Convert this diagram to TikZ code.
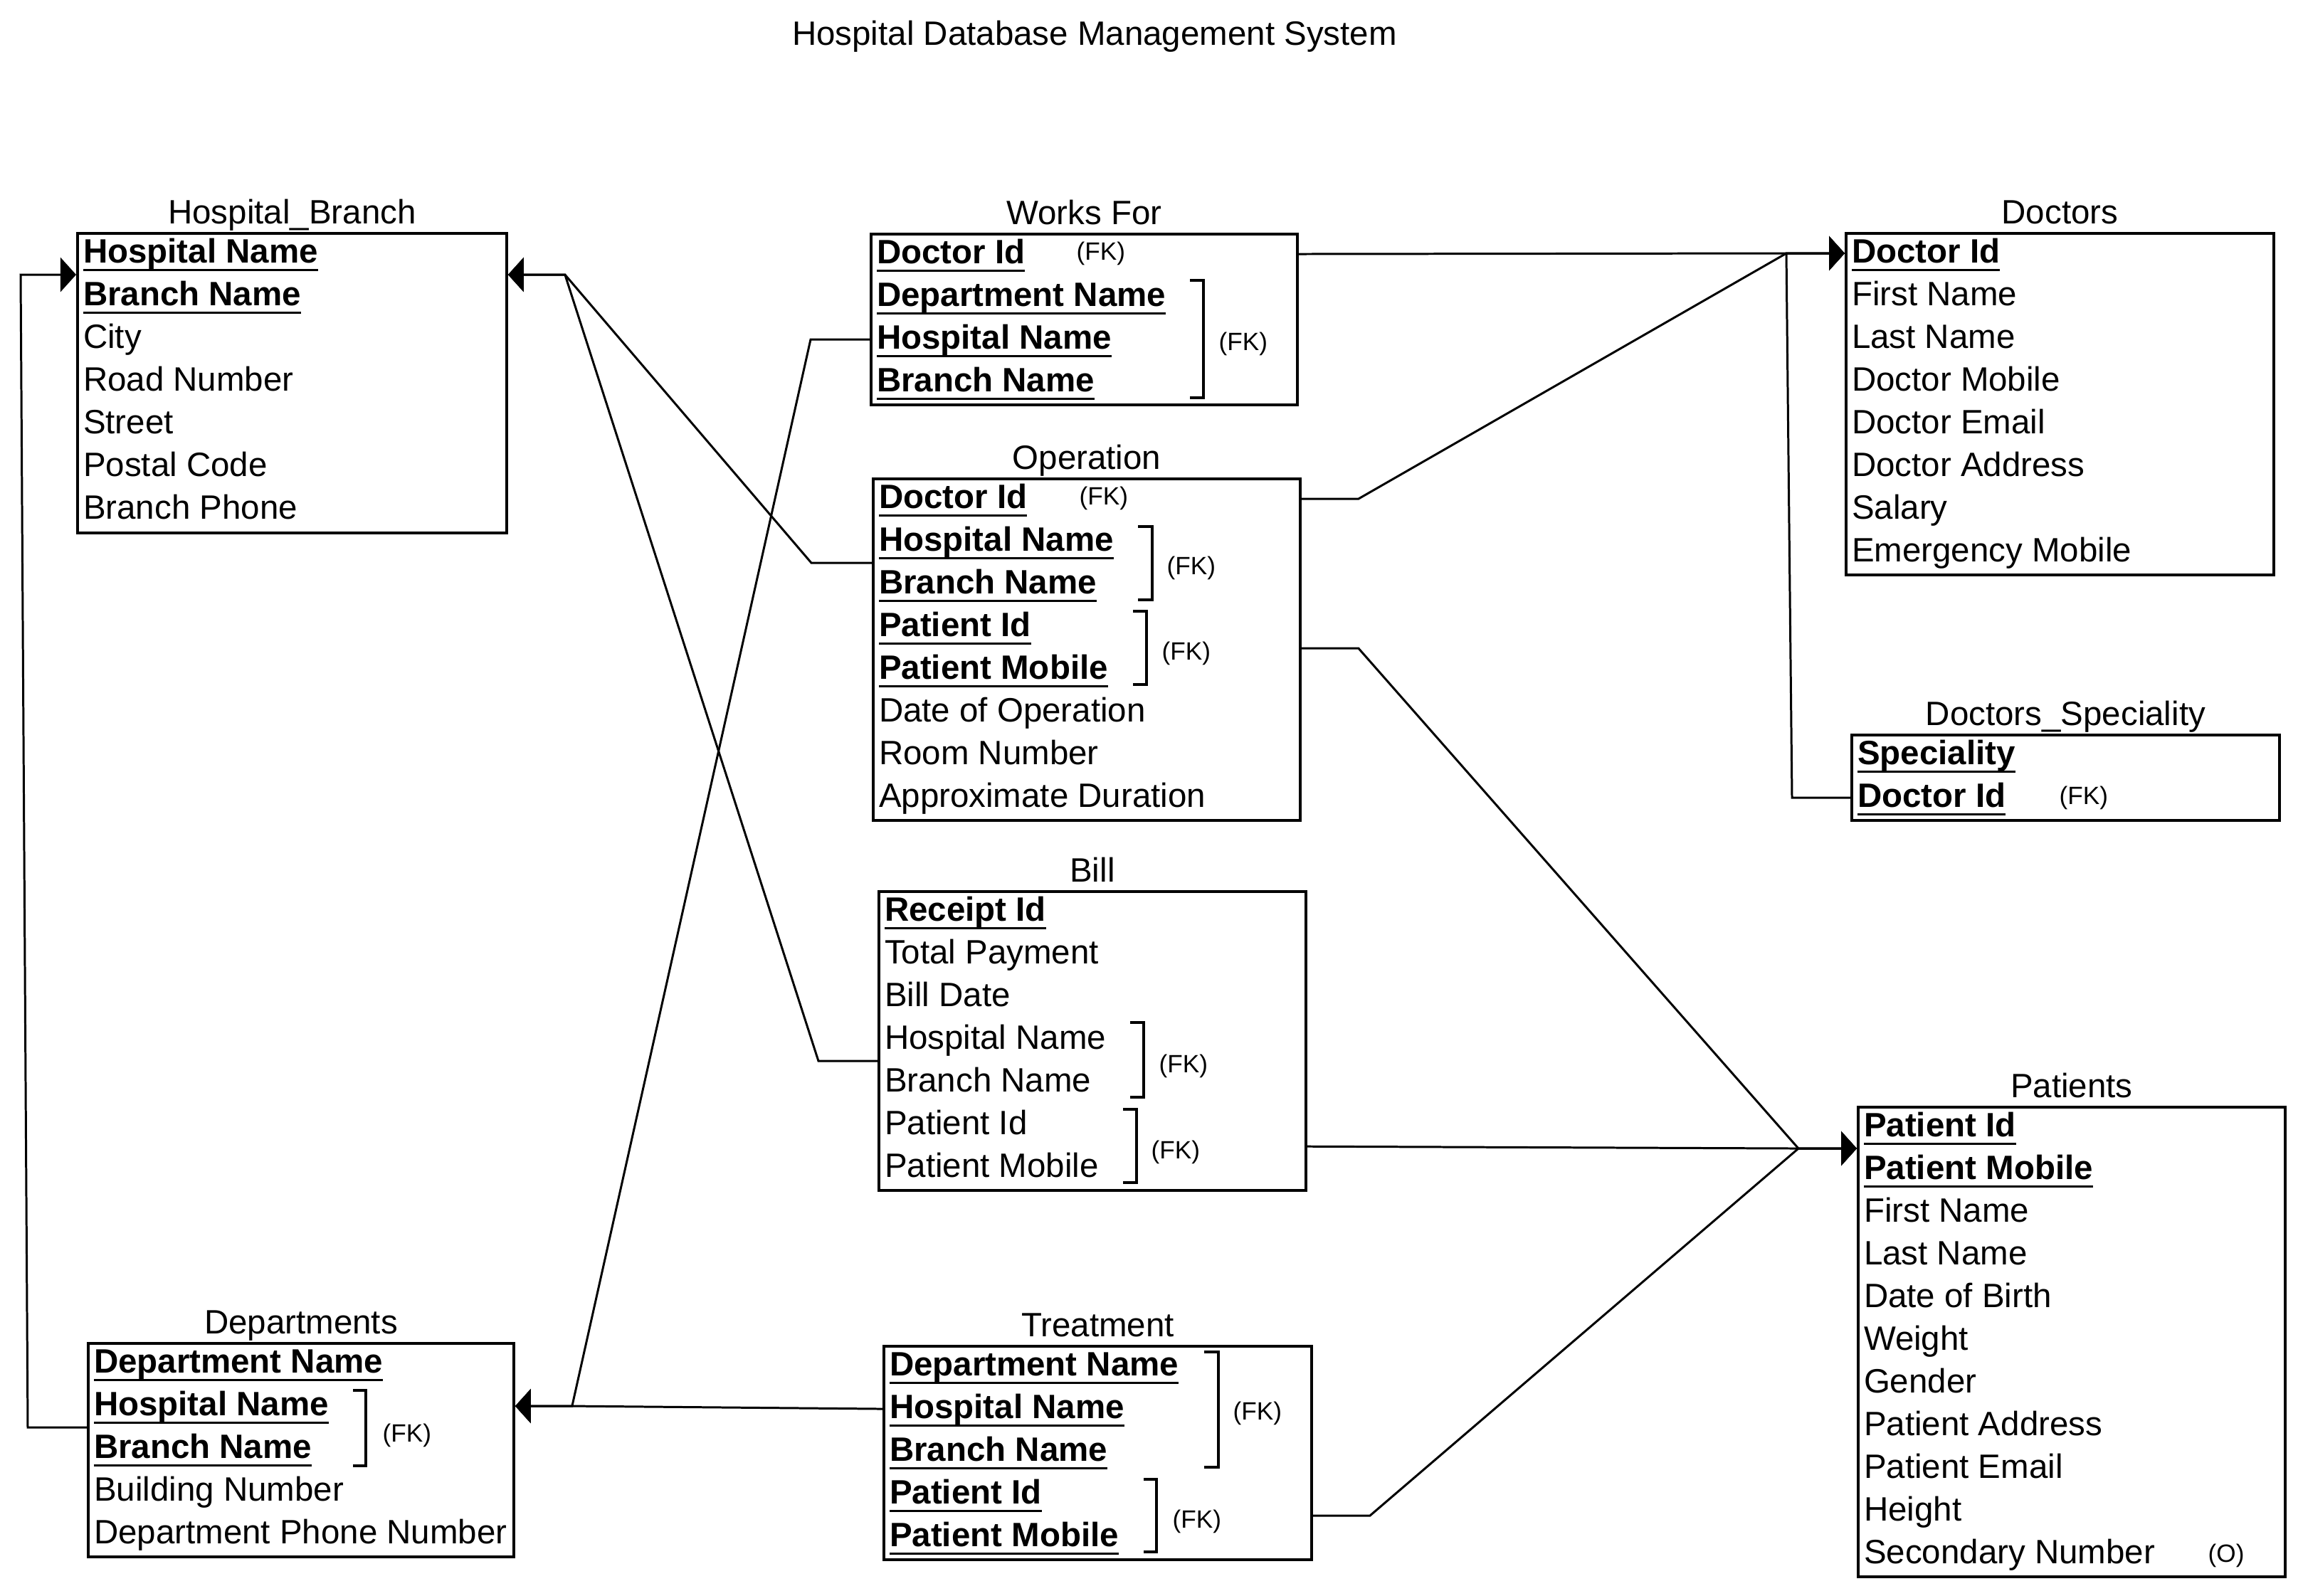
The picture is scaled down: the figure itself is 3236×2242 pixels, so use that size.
\documentclass[tikz,border=0pt]{standalone}
\usepackage{fontspec}
\setmainfont{Liberation Sans}
\usetikzlibrary{positioning}
\usetikzlibrary{arrows.meta}

\newsavebox{\pkbox}
\newcommand{\pk}[1]{\sbox\pkbox{\bfseries #1}\rlap{\rule[-3.47pt]{\wd\pkbox}{0.97pt}}\usebox\pkbox}

\begin{document}
\begin{tikzpicture}[x=0.01cm, y=-0.01cm,
entity/.style={draw, line width=1pt, anchor=north west, inner sep=0pt},
attr/.style={anchor=north west, inner sep=0pt, outer sep=0pt, text height=0.43cm, text depth=0.17cm, font=\fontsize{13.5}{16}\selectfont},
ename/.style={anchor=base, inner sep=0pt, font=\fontsize{13.5}{16}\selectfont},
fk/.style={anchor=west, inner sep=0pt, font=\fontsize{10}{12}\selectfont},
brk/.style={line width=1pt},
rel/.style={line width=0.85pt, -{Triangle[length=0.22cm,width=0.48cm]}}
]
\useasboundingbox (0,0) rectangle (3236,2242);

%title
\node[ename] (ttl) at (1538,64) {Hospital Database Management System};

%create boxes
\node[entity, minimum width=6.03cm, minimum height=4.21cm] (hb) at (107,326) {};
\node[entity, minimum width=5.99cm, minimum height=2.4cm] (wf) at (1222,327) {};
\node[entity, minimum width=6cm, minimum height=4.8cm] (op) at (1225,671) {};
\node[entity, minimum width=6cm, minimum height=4.2cm] (bill) at (1233,1251) {};
\node[entity, minimum width=6.01cm, minimum height=3cm] (trt) at (1240,1890) {};
\node[entity, minimum width=5.98cm, minimum height=3cm] (dep) at (122,1886) {};
\node[entity, minimum width=6.01cm, minimum height=4.8cm] (doc) at (2592,326) {};
\node[entity, minimum width=6.01cm, minimum height=1.2cm] (spec) at (2600,1031) {};
\node[entity, minimum width=6cm, minimum height=6.6cm] (pat) at (2609,1554) {};

%box names
\node[ename] (hbn) at ([yshift=0.115cm]hb.north) {Hospital\_Branch};
\node[ename] (wfn) at ([yshift=0.115cm]wf.north) {Works For};
\node[ename] (opn) at ([yshift=0.115cm]op.north) {Operation};
\node[ename] (billn) at ([yshift=0.115cm]bill.north) {Bill};
\node[ename] (trtn) at ([yshift=0.115cm]trt.north) {Treatment};
\node[ename] (depn) at ([yshift=0.115cm]dep.north) {Departments};
\node[ename] (docn) at ([yshift=0.115cm]doc.north) {Doctors};
\node[ename] (specn) at ([yshift=0.115cm]spec.north) {Doctors\_Speciality};
\node[ename] (patn) at ([yshift=0.115cm]pat.north) {Patients};

%Hospital_Branch rows
\node[attr] (hb0) at ([xshift=0.1cm]hb.north west) {\pk{Hospital Name}};
\node[below=0pt of hb0.south west, attr] (hb1) {\pk{Branch Name}};
\node[below=0pt of hb1.south west, attr] (hb2) {City};
\node[below=0pt of hb2.south west, attr] (hb3) {Road Number};
\node[below=0pt of hb3.south west, attr] (hb4) {Street};
\node[below=0pt of hb4.south west, attr] (hb5) {Postal Code};
\node[below=0pt of hb5.south west, attr] (hb6) {Branch Phone};

%Works For rows
\node[attr] (wf0) at ([xshift=0.1cm]wf.north west) {\pk{Doctor Id}};
\node[below=0pt of wf0.south west, attr] (wf1) {\pk{Department Name}};
\node[below=0pt of wf1.south west, attr] (wf2) {\pk{Hospital Name}};
\node[below=0pt of wf2.south west, attr] (wf3) {\pk{Branch Name}};

%Operation rows
\node[attr] (op0) at ([xshift=0.1cm]op.north west) {\pk{Doctor Id}};
\node[below=0pt of op0.south west, attr] (op1) {\pk{Hospital Name}};
\node[below=0pt of op1.south west, attr] (op2) {\pk{Branch Name}};
\node[below=0pt of op2.south west, attr] (op3) {\pk{Patient Id}};
\node[below=0pt of op3.south west, attr] (op4) {\pk{Patient Mobile}};
\node[below=0pt of op4.south west, attr] (op5) {Date of Operation};
\node[below=0pt of op5.south west, attr] (op6) {Room Number};
\node[below=0pt of op6.south west, attr] (op7) {Approximate Duration};

%Bill rows
\node[attr] (bill0) at ([xshift=0.1cm]bill.north west) {\pk{Receipt Id}};
\node[below=0pt of bill0.south west, attr] (bill1) {Total Payment};
\node[below=0pt of bill1.south west, attr] (bill2) {Bill Date};
\node[below=0pt of bill2.south west, attr] (bill3) {Hospital Name};
\node[below=0pt of bill3.south west, attr] (bill4) {Branch Name};
\node[below=0pt of bill4.south west, attr] (bill5) {Patient Id};
\node[below=0pt of bill5.south west, attr] (bill6) {Patient Mobile};

%Treatment rows
\node[attr] (trt0) at ([xshift=0.1cm]trt.north west) {\pk{Department Name}};
\node[below=0pt of trt0.south west, attr] (trt1) {\pk{Hospital Name}};
\node[below=0pt of trt1.south west, attr] (trt2) {\pk{Branch Name}};
\node[below=0pt of trt2.south west, attr] (trt3) {\pk{Patient Id}};
\node[below=0pt of trt3.south west, attr] (trt4) {\pk{Patient Mobile}};

%Departments rows
\node[attr] (dep0) at ([xshift=0.1cm]dep.north west) {\pk{Department Name}};
\node[below=0pt of dep0.south west, attr] (dep1) {\pk{Hospital Name}};
\node[below=0pt of dep1.south west, attr] (dep2) {\pk{Branch Name}};
\node[below=0pt of dep2.south west, attr] (dep3) {Building Number};
\node[below=0pt of dep3.south west, attr] (dep4) {Department Phone Number};

%Doctors rows
\node[attr] (doc0) at ([xshift=0.1cm]doc.north west) {\pk{Doctor Id}};
\node[below=0pt of doc0.south west, attr] (doc1) {First Name};
\node[below=0pt of doc1.south west, attr] (doc2) {Last Name};
\node[below=0pt of doc2.south west, attr] (doc3) {Doctor Mobile};
\node[below=0pt of doc3.south west, attr] (doc4) {Doctor Email};
\node[below=0pt of doc4.south west, attr] (doc5) {Doctor Address};
\node[below=0pt of doc5.south west, attr] (doc6) {Salary};
\node[below=0pt of doc6.south west, attr] (doc7) {Emergency Mobile};

%Doctors_Speciality rows
\node[attr] (spec0) at ([xshift=0.1cm]spec.north west) {\pk{Speciality}};
\node[below=0pt of spec0.south west, attr] (spec1) {\pk{Doctor Id}};

%Patients rows
\node[attr] (pat0) at ([xshift=0.1cm]pat.north west) {\pk{Patient Id}};
\node[below=0pt of pat0.south west, attr] (pat1) {\pk{Patient Mobile}};
\node[below=0pt of pat1.south west, attr] (pat2) {First Name};
\node[below=0pt of pat2.south west, attr] (pat3) {Last Name};
\node[below=0pt of pat3.south west, attr] (pat4) {Date of Birth};
\node[below=0pt of pat4.south west, attr] (pat5) {Weight};
\node[below=0pt of pat5.south west, attr] (pat6) {Gender};
\node[below=0pt of pat6.south west, attr] (pat7) {Patient Address};
\node[below=0pt of pat7.south west, attr] (pat8) {Patient Email};
\node[below=0pt of pat8.south west, attr] (pat9) {Height};
\node[below=0pt of pat9.south west, attr] (pat10) {Secondary Number};

%key marks
\node[fk] (wffk1) at (1512,356) {(FK)};
\node[fk] (wffk2) at (1712,483) {(FK)};
\node[fk] (opfk1) at (1516,700) {(FK)};
\node[fk] (opfk2) at (1639,798) {(FK)};
\node[fk] (opfk3) at (1632,918) {(FK)};
\node[fk] (billfk1) at (1628,1498) {(FK)};
\node[fk] (billfk2) at (1617,1619) {(FK)};
\node[fk] (trtfk1) at (1732,1986) {(FK)};
\node[fk] (trtfk2) at (1647,2138) {(FK)};
\node[fk] (depfk) at (537,2017) {(FK)};
\node[fk] (specfk) at (2893,1121) {(FK)};
\node[fk] (patopt) at (3102,2186) {(O)};

%brackets
\draw[brk] (1672,394) -- (1691,394) -- (1691,559) -- (1672,559);
\draw[brk] (1599,740) -- (1619,740) -- (1619,843) -- (1599,843);
\draw[brk] (1592,859) -- (1611,859) -- (1611,962) -- (1592,962);
\draw[brk] (1588,1437) -- (1607,1437) -- (1607,1542) -- (1588,1542);
\draw[brk] (1578,1559) -- (1597,1559) -- (1597,1662) -- (1578,1662);
\draw[brk] (1692,1900) -- (1712,1900) -- (1712,2062) -- (1692,2062);
\draw[brk] (1607,2079) -- (1625,2079) -- (1625,2181) -- (1607,2181);
\draw[brk] (496,1954) -- (514,1954) -- (514,2060) -- (496,2060);

%junctions
\path (hb.east |- hb0.south) ++(80,0) coordinate (jhb);
\path (hb.west |- hb0.south) ++(-78,0) coordinate (jhbl);
\path (dep.east |- dep1) ++(80,0) coordinate (jdep);
\path (doc.west |- doc0) ++(-82,0) coordinate (jdoc);
\path (pat.west |- pat0.south) ++(-82,0) coordinate (jpat);

%draw paths
\draw[rel] (op.west |- op1.south) -- ++(-85,0) -- (jhb) -- (hb.east |- hb0.south);
\draw[rel] (bill.west |- bill3.south) -- ++(-83,0) -- (jhb) -- (hb.east |- hb0.south);
\draw[rel] (dep.west |- dep1.south) -- ++(-83,0) -- (jhbl) -- (hb.west |- hb0.south);

\draw[rel] (wf.west |- wf2) -- ++(-83,0) -- (jdep) -- (dep.east |- dep1);
\draw[rel] (trt.west |- trt1) -- (jdep) -- (dep.east |- dep1);

\draw[rel] (wf.east |- wf0) -- (jdoc) -- (doc.west |- doc0);
\draw[rel] (op.east |- op0) -- ++(80,0) -- (jdoc) -- (doc.west |- doc0);
\draw[rel] (spec.west |- spec1) -- ++(-82,0) -- (jdoc) -- (doc.west |- doc0);

\draw[rel] (op.east |- op3.south) -- ++(80,0) -- (jpat) -- (pat.west |- pat0.south);
\draw[rel] (bill.east |- bill5.south) -- (jpat) -- (pat.west |- pat0.south);
\draw[rel] (trt.east |- trt3.south) -- ++(80,0) -- (jpat) -- (pat.west |- pat0.south);

\end{tikzpicture}
\end{document}
